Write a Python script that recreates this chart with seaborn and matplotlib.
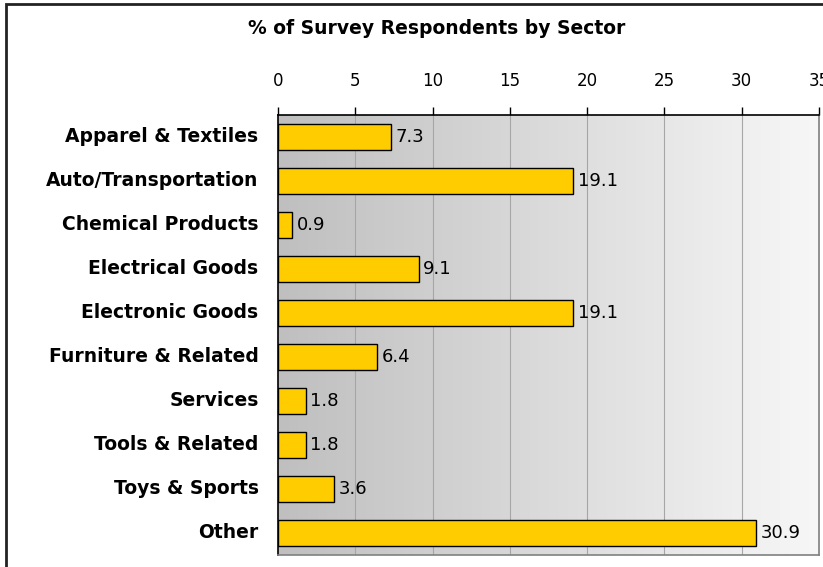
import numpy as np
import pandas as pd
import matplotlib
matplotlib.use("Agg")
import matplotlib.pyplot as plt
import seaborn as sns
from matplotlib.patches import Rectangle
from matplotlib.colors import LinearSegmentedColormap
import matplotlib.transforms as mtransforms

categories = ["Apparel & Textiles", "Auto/Transportation", "Chemical Products",
              "Electrical Goods", "Electronic Goods", "Furniture & Related",
              "Services", "Tools & Related", "Toys & Sports", "Other"]
values = [7.3, 19.1, 0.9, 9.1, 19.1, 6.4, 1.8, 1.8, 3.6, 30.9]
value_labels = ["7.3", "19.1", "0.9", "9.1", "19.1", "6.4", "1.8", "1.8", "3.6", "30.9"]
x_ticks = [0, 5, 10, 15, 20, 25, 30, 35]
title = "% of Survey Respondents by Sector"

sns.set_style("white")
plt.rcParams['font.family'] = ['DejaVu Sans']
plt.rcParams['text.color'] = 'black'
plt.rcParams['xtick.color'] = 'black'
plt.rcParams['ytick.color'] = 'black'

W, H = 823, 567
fig = plt.figure(figsize=(W / 100, H / 100), dpi=100)
ax = fig.add_axes([278 / W, 1 - 555 / H, (819 - 278) / W, (555 - 115) / H])

df = pd.DataFrame({"Sector": categories, "Percent": values})
sns.barplot(data=df, x="Percent", y="Sector", orient="h", color="#FFCC00",
            edgecolor="black", linewidth=1.0, width=0.6, saturation=1, ax=ax, zorder=3)

ax.set_xlim(0, 35)
ax.set_ylim(len(categories) - 0.5, -0.5)

# gradient background
grad = np.linspace(0, 1, 256).reshape(1, -1)
cmap = LinearSegmentedColormap.from_list("bg", ["#bfbfbf", "#f7f7f7"])
ax.imshow(grad, extent=[0, 35, len(categories) - 0.5, -0.5], aspect="auto",
          cmap=cmap, zorder=0, interpolation="bilinear")

for xv in x_ticks[1:-1]:
    ax.axvline(xv, color="#a6a6a6", lw=0.8, zorder=1)

ax.xaxis.tick_top()
ax.set_xticks(x_ticks)
ax.set_xticklabels([str(t) for t in x_ticks], fontsize=12, color="black")
ax.tick_params(axis="x", direction="out", length=6, width=1, pad=12, colors="black")
ax.set_yticks(range(len(categories)))
ax.set_yticklabels(categories, fontsize=13.5, fontweight="bold", color="black")
ax.tick_params(axis="y", length=0, pad=14)
ax.set_yticks(np.arange(-0.5, len(categories), 1), minor=True)
ax.tick_params(axis="y", which="minor", length=7, width=1, direction="out", colors="black")
ax.set_xlabel("")
ax.set_ylabel("")
shift = mtransforms.ScaledTranslation(0, 2 / 72, fig.dpi_scale_trans)
for lab in ax.get_yticklabels():
    lab.set_transform(lab.get_transform() + shift)

for s in ["top", "left"]:
    ax.spines[s].set_color("black")
    ax.spines[s].set_linewidth(1.2)
for s in ["bottom", "right"]:
    ax.spines[s].set_color("#808080")
    ax.spines[s].set_linewidth(1.2)
    ax.spines[s].set_visible(True)

for i, (v, lab) in enumerate(zip(values, value_labels)):
    ax.text(v + 0.3, i, lab, va="center", ha="left", fontsize=13, color="black", zorder=4)

fig.text(437 / W, 1 - 28 / H, title, ha="center", va="center",
         fontsize=13.5, fontweight="bold", color="black")

# outer chart border (left & top visible)
fig.patches.append(Rectangle((6 / W, -0.1), 1.2, (1 - 4 / H) + 0.1,
                             transform=fig.transFigure, fill=False,
                             edgecolor="#222222", linewidth=2))

fig.savefig("out.png", dpi=100)
